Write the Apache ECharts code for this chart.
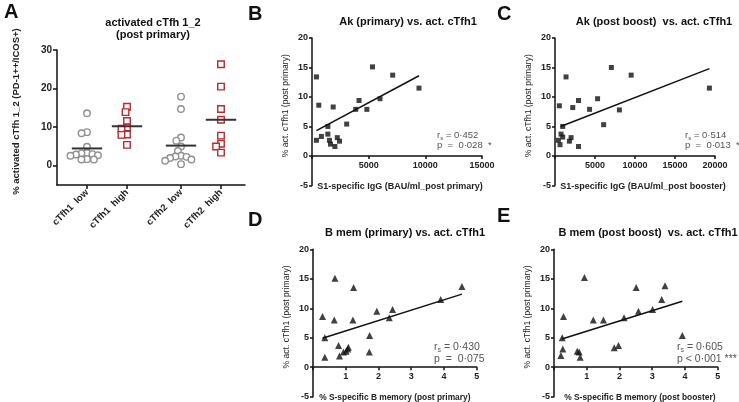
<!DOCTYPE html>
<html><head><meta charset="utf-8">
<script src="https://cdn.jsdelivr.net/npm/echarts@6/dist/echarts.min.js"></script>
<style>html,body{margin:0;padding:0;background:#fff}#c{width:739px;height:402px}</style>
</head><body><div id="c"></div>
<script>
const FONT = '"Liberation Sans", Arial, sans-serif';

// ---- Panel A data ----
const aCategories = ['cTfh1  low', 'cTfh1  high', 'cTfh2  low', 'cTfh2  high'];
const aLow1  = [13.6, 8.7, 8.4, 4.9, 3.3, 3.2, 3.0, 2.9, 2.7, 2.6, 1.7, 1.6, 1.6];
const aHigh1 = [15.3, 13.9, 11.6, 9.9, 9.6, 8.1, 8.0, 5.4];
const aLow2  = [17.9, 14.7, 7.3, 6.5, 5.0, 3.8, 2.6, 2.4, 2.3, 2.0, 1.6, 1.3, 0.4];
const aHigh2 = [26.3, 20.5, 14.7, 11.9, 7.8, 5.7, 5.0, 3.4];
const aYTicks = [0, 10, 20, 30];

// ---- Panel B data ----
const bIgG = [390, 390, 600, 830, 1400, 1400, 1540, 1630, 1870, 2020, 2230, 2430, 3060, 3860, 4150, 4840, 5340, 6000, 7120, 9440];
const bAct = [2.65, 13.4, 8.6, 3.3, 5.0, 3.7, 2.65, 2.0, 8.3, 1.6, 3.1, 2.5, 5.4, 7.9, 9.4, 7.9, 15.1, 9.7, 13.7, 11.5];
const bTrendX = [390, 9440];
const bTrendY = [4.3, 13.6];
// ---- Panel C data ----
const cIgG = [420, 545, 630, 755, 965, 965, 1380, 1800, 2010, 2220, 2935, 2935, 4320, 5320, 6080, 7045, 8050, 9520, 19300];
const cAct = [2.65, 8.5, 1.9, 3.7, 3.2, 5.0, 13.4, 2.5, 3.1, 8.2, 9.4, 1.6, 7.9, 9.7, 5.3, 15.0, 7.8, 13.7, 11.5];
const cTrendX = [700, 19300];
const cTrendY = [5.0, 14.8];
// ---- Panel D data ----
const dBmem = [0.29, 0.36, 0.36, 0.65, 0.67, 0.78, 0.81, 0.93, 1.01, 1.06, 1.08, 1.22, 1.24, 1.72, 1.73, 1.95, 2.33, 2.43, 3.9, 4.55];
const dAct  = [8.6, 5.0, 1.7, 8.0, 15.1, 3.7, 1.9, 2.6, 2.7, 3.1, 3.4, 8.0, 13.5, 2.6, 5.4, 9.5, 8.4, 9.8, 11.5, 13.7];
const dTrendX = [0.29, 4.55];
const dTrendY = [4.9, 12.4];
// ---- Panel E data ----
const eBmem = [0.21, 0.25, 0.27, 0.29, 0.71, 0.77, 0.80, 0.93, 1.20, 1.51, 1.84, 1.97, 2.14, 2.51, 2.58, 3.01, 3.29, 3.39, 3.92];
const eAct  = [2.0, 5.0, 3.1, 8.6, 2.7, 2.6, 1.7, 15.2, 8.0, 8.0, 3.3, 3.7, 8.4, 13.5, 9.5, 9.8, 11.5, 13.8, 5.4];
const eTrendX = [0.24, 3.92];
const eTrendY = [4.8, 11.2];

const statsR = ['0·452', '0·514', '0·430', '0·605'];
const statsP = ['p  =  0·028  *', 'p  =  0·013  *', 'p  =  0·075', 'p < 0·001 ***'];

// ---- layout constants ----
const aCatPos = [0.75, 1.75, 3.1, 4.1];
const A_XSCALE = 40, A_YSCALE = 3.867, A_D = 5.6;
const SC_H = 147.4, SC_ZERO_OFF = -SC_H * 5 / 25;

function swarm(values, cx) {
  const order = values.map((v, i) => i).sort((a, b) => values[b] - values[a]);
  const placed = [], out = new Array(values.length);
  for (const i of order) {
    const py = values[i] * A_YSCALE;
    const blocks = [];
    for (const p of placed) {
      const dy = Math.abs(p.y - py);
      if (dy < A_D) { const w = Math.sqrt(A_D * A_D - dy * dy); blocks.push([p.x - w, p.x + w]); }
    }
    const cands = [0];
    blocks.forEach(b => cands.push(b[0], b[1]));
    cands.sort((a, b) => Math.abs(a) - Math.abs(b) || a - b);
    let x = 0;
    for (const c of cands) {
      if (blocks.every(b => c <= b[0] + 1e-6 || c >= b[1] - 1e-6)) { x = c; break; }
    }
    placed.push({ x, y: py });
    out[i] = [cx + x / A_XSCALE, values[i]];
  }
  return out;
}
const mean = a => a.reduce((s, v) => s + v, 0) / a.length;
const zip = (xs, ys) => xs.map((x, i) => [x, ys[i]]);

const axisLineStyle = { color: '#111', width: 1.5 };
const tickLbl = { fontFamily: FONT, fontWeight: 'bold', fontSize: 9, color: '#222' };

function yAxisScatter(gi) {
  return {
    type: 'value', gridIndex: gi, min: -5, max: 20, interval: 5,
    name: '% act. cTfh1 (post primary)', nameLocation: 'middle', nameGap: 22,
    nameTextStyle: { fontFamily: FONT, fontSize: 8.6, color: '#222', padding: [0, 0, 0, 12] },
    axisLine: { show: true, onZero: false, lineStyle: axisLineStyle },
    axisTick: { show: true, length: 3, lineStyle: axisLineStyle },
    axisLabel: Object.assign({ margin: 4 }, tickLbl),
    splitLine: { show: false }
  };
}
function xAxisScatter(gi, max, interval, name, fs, shift) {
  return {
    type: 'value', gridIndex: gi, min: 0, max, interval, position: 'bottom', offset: SC_ZERO_OFF,
    name, nameLocation: 'middle', nameGap: 26,
    nameTextStyle: { fontFamily: FONT, fontSize: fs, fontWeight: 'bold', color: '#222',
      padding: shift > 0 ? [0, 0, 0, shift * 2] : [0, -shift * 2, 0, 0] },
    axisLine: { show: true, onZero: false, lineStyle: axisLineStyle },
    axisTick: { show: true, length: 3, lineStyle: axisLineStyle },
    axisLabel: Object.assign({ margin: 5, formatter: v => (v === 0 ? '' : String(v)) }, tickLbl),
    splitLine: { show: false }
  };
}

const series = [];
const aGroups = [aLow1, aHigh1, aLow2, aHigh2];
aGroups.forEach((vals, gi) => {
  const isHigh = gi % 2 === 1;
  series.push({
    type: 'scatter', xAxisIndex: 0, yAxisIndex: 0, data: swarm(vals, aCatPos[gi]),
    symbol: isHigh ? 'rect' : 'circle', symbolSize: 6.5,
    itemStyle: { color: '#fff', borderColor: isHigh ? '#c1272d' : '#909090', borderWidth: 1.4, opacity: 1 },
    z: 3, silent: true
  });
  const m = mean(vals);
  series.push({
    type: 'line', xAxisIndex: 0, yAxisIndex: 0, data: [[aCatPos[gi] - 0.38, m], [aCatPos[gi] + 0.38, m]],
    symbol: 'none', lineStyle: { color: '#333', width: 2 }, z: 4, silent: true
  });
});
const panels = [
  [bIgG, bAct, bTrendX, bTrendY, 'rect', 5],
  [cIgG, cAct, cTrendX, cTrendY, 'rect', 5],
  [dBmem, dAct, dTrendX, dTrendY, 'triangle', 7],
  [eBmem, eAct, eTrendX, eTrendY, 'triangle', 7]
];
panels.forEach((p, k) => {
  const gi = k + 1;
  series.push({
    type: 'scatter', xAxisIndex: gi, yAxisIndex: gi, data: zip(p[0], p[1]),
    symbol: p[4], symbolSize: p[5], itemStyle: { color: '#111' }, silent: true
  });
  series.push({
    type: 'line', xAxisIndex: gi, yAxisIndex: gi, data: zip(p[2], p[3]),
    symbol: 'none', lineStyle: { color: '#111', width: 1.5 }, silent: true
  });
});

function txt(x, y, text, size, weight, align, color) {
  return { type: 'text', x, y, style: { text, fontFamily: FONT, fontSize: size, fontWeight: weight || 'bold',
    fill: color || '#111', align: align || 'left', verticalAlign: 'top' } };
}
function stat(x, y, k, fs) {
  const sub = Math.round(fs * 0.68);
  return [
    { type: 'text', x, y, style: { text: '{r|r}{s|s}{r| = ' + statsR[k] + '}', fontFamily: FONT, fill: '#555',
      rich: { r: { fontSize: fs, fontFamily: FONT, fill: '#555' }, s: { fontSize: sub, fontFamily: FONT, fill: '#555', padding: [Math.round(fs * 0.6), 0, 0, 0] } } } },
    { type: 'text', x, y: y + fs + 2, style: { text: statsP[k], fontFamily: FONT, fontSize: fs, fill: '#555' } }
  ];
}

const graphic = [
  txt(4, 2, 'A', 20), txt(248, 4, 'B', 20), txt(497, 4, 'C', 20), txt(248, 210, 'D', 20), txt(497, 206, 'E', 20),
  txt(153, 17, 'activated cTfh 1_2', 11, 'bold', 'center'),
  txt(153, 29, '(post primary)', 11, 'bold', 'center'),
  txt(408, 16, 'Ak (primary) vs. act. cTfh1', 11, 'bold', 'center'),
  txt(654, 16, 'Ak (post boost)  vs. act. cTfh1', 11, 'bold', 'center'),
  txt(405, 227, 'B mem (primary) vs. act. cTfh1', 11, 'bold', 'center'),
  txt(648, 227, 'B mem (post boost)  vs. act. cTfh1', 11, 'bold', 'center'),
  ...stat(437, 129, 0, 9.5), ...stat(685, 129, 1, 9.5), ...stat(434, 341, 2, 10.5), ...stat(677, 341, 3, 10.5)
];

const option = {
  animation: false,
  backgroundColor: '#fff',
  grid: [
    { left: 57, top: 50, width: 188, height: 135, outerBoundsMode: 'none' },
    { left: 312, top: 38, width: 170, height: SC_H, outerBoundsMode: 'none' },
    { left: 555, top: 38, width: 160, height: SC_H, outerBoundsMode: 'none' },
    { left: 313, top: 249.3, width: 163.7, height: SC_H, outerBoundsMode: 'none' },
    { left: 554, top: 249.3, width: 163.7, height: SC_H, outerBoundsMode: 'none' }
  ],
  xAxis: [
    { type: 'value', gridIndex: 0, min: 0, max: 4.7,
      axisLine: { show: true, onZero: false, lineStyle: axisLineStyle },
      axisTick: { show: true, length: 4, customValues: aCatPos, lineStyle: axisLineStyle },
      axisLabel: { customValues: aCatPos, rotate: 45, margin: 6, fontFamily: FONT, fontWeight: 'bold', fontSize: 9.5, color: '#222',
        formatter: v => aCategories[aCatPos.findIndex(c => Math.abs(c - v) < 1e-6)] || '' },
      splitLine: { show: false } },
    xAxisScatter(1, 15000, 5000, 'S1-specific IgG (BAU/ml_post primary)', 9, 3),
    xAxisScatter(2, 20000, 5000, 'S1-specific IgG (BAU/ml_post booster)', 9, 8),
    xAxisScatter(3, 5, 1, '% S-specific B memory (post primary)', 8.4, 0),
    xAxisScatter(4, 5, 1, '% S-specific B memory (post booster)', 8.4, 4)
  ],
  yAxis: [
    { type: 'value', gridIndex: 0, min: -5, max: 30,
      name: '% activated cTfh 1_2 (PD-1++/ICOS+)', nameLocation: 'middle', nameGap: 36,
      nameTextStyle: { fontFamily: FONT, fontSize: 9.5, fontWeight: 'bold', color: '#222', padding: [0, 0, 0, 12] },
      axisLine: { show: true, onZero: false, lineStyle: axisLineStyle },
      axisTick: { show: true, length: 4, customValues: aYTicks, lineStyle: axisLineStyle },
      axisLabel: { customValues: aYTicks, margin: 5, fontFamily: FONT, fontWeight: 'bold', fontSize: 10, color: '#222' },
      splitLine: { show: false } },
    yAxisScatter(1), yAxisScatter(2), yAxisScatter(3), yAxisScatter(4)
  ],
  series,
  graphic
};
const chart = echarts.init(document.getElementById('c'), null, { renderer: 'canvas' });
chart.setOption(option);
</script>
</body></html>
